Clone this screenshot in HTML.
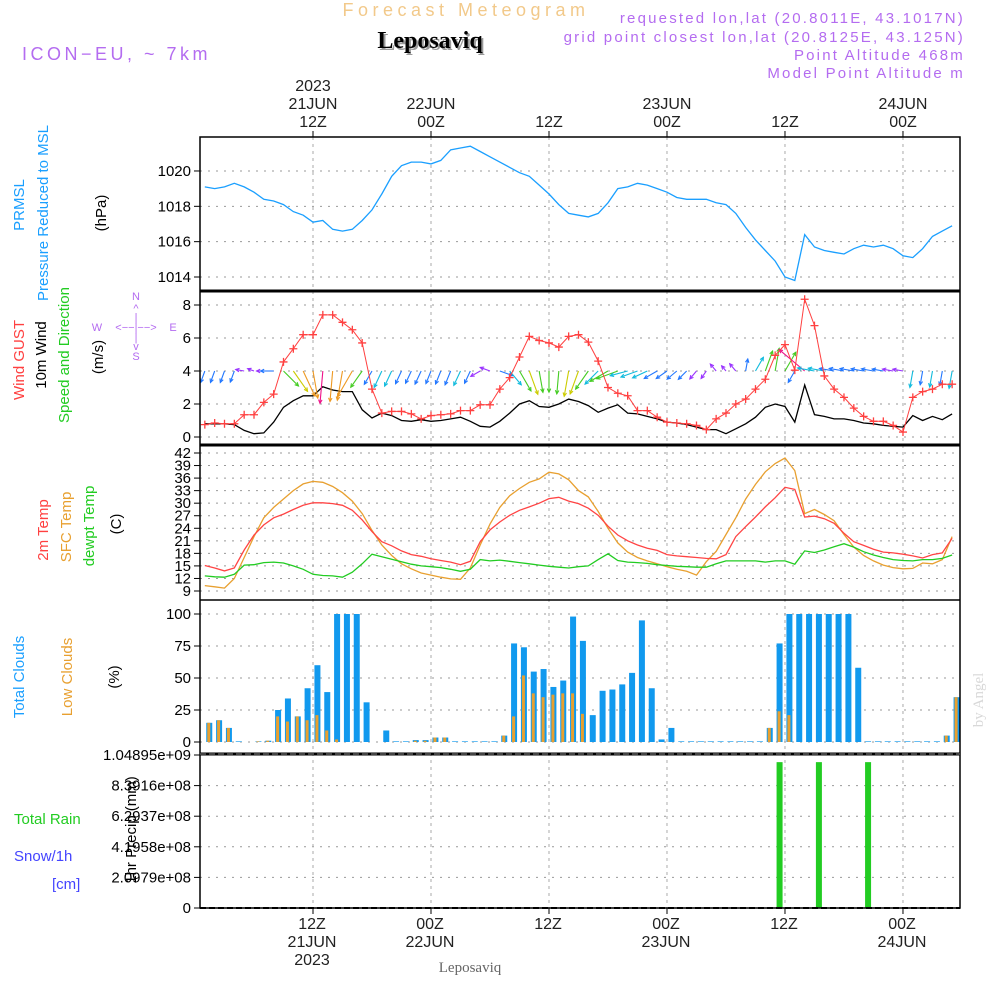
<!DOCTYPE html>
<html><head><meta charset="utf-8"><style>
html,body{margin:0;padding:0;background:#fff;}
svg{display:block;font-family:"Liberation Sans",sans-serif;}
</style></head><body>
<svg id="chart" width="1000" height="1000" viewBox="0 0 1000 1000" xmlns="http://www.w3.org/2000/svg">
<rect x="0" y="0" width="1000" height="1000" fill="#fff"/>
<text x="466" y="16" text-anchor="middle" font-size="18" fill="#f2c98a" letter-spacing="4.5">Forecast Meteogram</text>
<text x="432" y="50" text-anchor="middle" font-size="24" font-weight="bold" font-family="Liberation Serif,serif" fill="#9a9a9a">Leposaviq</text>
<text x="430" y="48" text-anchor="middle" font-size="24" font-weight="bold" font-family="Liberation Serif,serif" fill="#000">Leposaviq</text>
<text x="22" y="60" font-size="18" fill="#b46cf0" letter-spacing="3.5">ICON−EU, ~ 7km</text>
<g font-size="15" fill="#b46cf0" text-anchor="end" letter-spacing="2.2">
<text x="965" y="23">requested lon,lat (20.8011E, 43.1017N)</text>
<text x="965" y="42">grid point closest lon,lat (20.8125E, 43.125N)</text>
<text x="965" y="60">Point Altitude 468m</text>
<text x="965" y="78">Model Point Altitude m</text>
</g>
<g id="grid"></g>
<g id="marks"></g>
<g id="axes"></g>
<g font-size="15" fill="#000">
<text transform="translate(24,205) rotate(-90)" text-anchor="middle" fill="#1a9fff">PRMSL</text>
<text transform="translate(48,213) rotate(-90)" text-anchor="middle" fill="#1a9fff">Pressure Reduced to MSL</text>
<text transform="translate(106,213) rotate(-90)" text-anchor="middle">(hPa)</text>
<text transform="translate(24,360) rotate(-90)" text-anchor="middle" fill="#ff4040">Wind GUST</text>
<text transform="translate(46,355) rotate(-90)" text-anchor="middle">10m Wind</text>
<text transform="translate(69,355) rotate(-90)" text-anchor="middle" fill="#22cc22">Speed and Direction</text>
<text transform="translate(103,357) rotate(-90)" text-anchor="middle">(m/s)</text>
<text transform="translate(48,530) rotate(-90)" text-anchor="middle" fill="#ff4040">2m Temp</text>
<text transform="translate(71,527) rotate(-90)" text-anchor="middle" fill="#e8a030">SFC Temp</text>
<text transform="translate(94,526) rotate(-90)" text-anchor="middle" fill="#22cc22">dewpt Temp</text>
<text transform="translate(121,524) rotate(-90)" text-anchor="middle">(C)</text>
<text transform="translate(24,677) rotate(-90)" text-anchor="middle" fill="#1a9fff">Total Clouds</text>
<text transform="translate(72,677) rotate(-90)" text-anchor="middle" fill="#e8a030">Low Clouds</text>
<text transform="translate(119,677) rotate(-90)" text-anchor="middle">(%)</text>
<text x="14" y="824" fill="#22cc22">Total  Rain</text>
<text x="14" y="861" fill="#4444ff">Snow/1h</text>
<text x="52" y="889" fill="#4444ff">[cm]</text>
<text transform="translate(136,830) rotate(-90)" text-anchor="middle">1hr Precip (mm)</text>
<text transform="translate(983,700) rotate(-90)" text-anchor="middle" font-family="Liberation Serif,serif" fill="#d8d8d8">by Angel</text>
<text x="470" y="972" text-anchor="middle" font-family="Liberation Serif,serif" fill="#666">Leposaviq</text>
</g>
<g font-size="11" fill="#b46cf0" text-anchor="middle">
<text x="136" y="300">N</text><text x="136" y="312">^</text><text x="136" y="321">|</text>
<text x="136" y="331">&lt;−−|−−&gt;</text><text x="97" y="331">W</text><text x="173" y="331">E</text>
<text x="136" y="341">|</text><text x="136" y="350">v</text><text x="136" y="360">S</text>
</g>
</svg>
<script>
const hours=[];for(let i=1;i<=77;i++)hours.push(i);
const pressure=[1019.1,1019.0,1019.1,1019.3,1019.1,1018.8,1018.4,1018.3,1018.1,1017.7,1017.5,1017.1,1017.2,1016.7,1016.6,1016.7,1017.2,1017.8,1018.7,1019.7,1020.3,1020.5,1020.5,1020.4,1020.6,1021.2,1021.3,1021.4,1021.1,1020.8,1020.5,1020.2,1019.9,1019.7,1019.2,1018.7,1018.1,1017.6,1017.5,1017.4,1017.6,1018.2,1019.0,1019.1,1019.3,1019.2,1019.0,1018.8,1018.5,1018.4,1018.4,1018.4,1018.2,1018.1,1017.6,1016.8,1016.1,1015.5,1014.9,1014.0,1013.8,1016.4,1015.7,1015.5,1015.4,1015.3,1015.6,1015.8,1015.7,1015.8,1015.6,1015.2,1015.1,1015.6,1016.3,1016.6,1016.9];
const gust=[0.75,0.85,0.8,0.8,1.35,1.35,2.1,2.6,4.55,5.35,6.2,6.2,7.4,7.4,6.95,6.5,5.7,2.9,1.45,1.55,1.55,1.4,1.1,1.3,1.35,1.4,1.6,1.6,1.95,1.95,2.9,3.6,4.85,6.1,5.85,5.7,5.45,6.1,6.2,5.75,4.6,3.0,2.65,2.5,1.6,1.6,1.2,0.9,0.85,0.8,0.7,0.45,1.1,1.45,2.0,2.3,2.9,3.5,4.95,5.6,4.05,8.35,6.75,3.7,2.9,2.4,1.75,1.25,0.95,0.95,0.7,0.3,2.4,2.75,2.9,3.2,3.2];
const wind=[0.8,0.8,0.8,0.75,0.4,0.2,0.25,0.9,1.8,2.2,2.5,2.5,3.05,2.85,2.75,2.75,1.65,1.15,1.45,1.3,1.0,0.95,1.05,0.95,1.0,1.1,1.2,0.95,0.65,0.6,0.95,1.45,2.0,2.2,1.85,1.8,2.0,2.3,2.15,1.9,1.5,1.75,1.95,1.45,1.4,1.25,1.1,0.9,0.85,0.75,0.6,0.45,0.45,0.2,0.5,0.8,1.2,1.8,2.0,1.85,0.9,3.15,1.35,1.25,1.1,1.1,1.0,0.85,0.8,0.7,0.65,0.6,1.3,1.0,1.25,1.05,1.4];
const windDir=[110,110,110,110,190,200,180,180,45,55,65,80,95,95,100,120,125,120,115,115,115,115,115,112,112,112,115,115,150,200,20,50,60,70,80,90,95,100,110,125,135,150,160,165,160,155,150,145,140,135,130,125,230,230,230,280,300,290,280,300,120,220,190,190,190,190,190,190,190,190,190,190,100,100,100,100,100];
const temp2m=[15.1,14.5,13.8,14.5,18.8,22.4,24.8,26.5,27.4,28.5,29.5,30.1,30.1,29.9,29.5,28.3,26.0,23.2,20.8,19.8,18.6,17.7,17.3,16.7,16.3,15.9,15.3,16.1,20.8,23.6,25.5,27.1,28.3,29.1,30.0,31.1,31.4,30.5,29.9,28.8,27.1,24.5,22.4,21.0,20.0,19.2,18.7,17.7,17.4,17.2,17.0,16.8,16.7,17.7,22.0,24.4,26.7,29.1,31.3,33.8,33.3,26.7,26.9,26.3,25.2,22.8,20.8,19.9,19.0,18.3,18.1,17.8,17.4,16.9,17.7,18.1,21.6];
const sfcTemp=[10.3,10.0,9.7,12.0,17.0,22.0,26.5,29.0,31.0,33.0,34.6,35.2,35.0,34.0,32.5,30.5,27.5,23.5,20.0,17.5,15.5,14.3,13.3,12.8,12.3,11.9,11.8,14.5,20.0,25.0,29.0,31.8,33.5,35.0,35.8,37.4,37.0,35.6,33.0,31.5,28.0,24.0,20.5,18.3,17.0,16.2,15.5,14.8,14.2,13.7,12.8,16.0,18.5,22.5,26.5,31.0,34.5,37.5,39.5,40.8,37.8,27.5,28.5,27.3,25.8,22.5,19.5,17.5,16.2,15.2,14.6,14.3,14.4,15.7,15.5,16.5,22.0];
const dewpt=[12.6,12.4,12.3,13.0,15.2,15.3,15.8,15.9,15.7,15.0,14.2,13.0,12.7,12.6,12.3,13.5,15.5,17.8,17.2,16.6,16.0,15.4,15.0,14.8,14.6,14.2,13.7,14.2,16.5,16.2,16.4,16.1,15.8,15.5,15.2,14.9,14.7,14.5,14.8,15.0,16.5,17.9,16.3,15.9,15.8,15.6,15.3,15.1,14.9,14.8,14.7,14.7,15.5,16.2,16.2,16.2,16.2,15.9,16.2,16.2,15.4,18.6,18.2,18.8,19.6,20.3,19.5,18.4,17.6,17.0,16.5,16.3,16.2,16.5,16.5,16.8,17.6];
const totalClouds=[15,17,11,0.5,0,0.5,1,25,34,20,42,60,39,100,100,100,31,0,9,0.5,0.5,1.5,1.5,3.5,3.5,0.5,0.5,0.5,0.5,0.5,5,77,74,55,57,43,48,98,79,21,40,41,45,54,95,42,2,11,0.5,0.5,0.5,0.5,0.5,0.5,0.5,0.5,0.5,11,77,100,100,100,100,100,100,100,58,0.5,0.5,0.5,0.5,0.5,0.5,0.5,0.5,5,35,73];
const lowClouds=[15,17,11,0,0,0.5,1,20,16,20,17,21,9,2,0,0,0,0,0,0,0,1,1,3.5,3.5,0,0,0,0,0,5,20,52,38,35,37,38,38,22,0,0,0,0,0,0,0,0,0,0,0,0,0,0,0,0,0,0,11,24,21,0,0,0,0,0,0,0,0,0,0,0,0,0,0,0,5,35,68];
const precip=[];for(let i=0;i<78;i++)precip.push(0);
precip[58]=1.0e9;precip[62]=1.0e9;precip[67]=1.0e9;
const pTicks=[1014,1016,1018,1020];
const wTicks=[0,2,4,6,8];
const tTicks=[9,12,15,18,21,24,27,30,33,36,39,42];
const cTicks=[0,25,50,75,100];
const rTicks=[0,2.0979e8,4.1958e8,6.2937e8,8.3916e8,1.04895e9];
const rTickLabels=["0","2.0979e+08","4.1958e+08","6.2937e+08","8.3916e+08","1.04895e+09"];
const timeTicks=[12,24,36,48,60,72];
const topLabels=[["2023","21JUN","12Z"],["","22JUN","00Z"],["","","12Z"],["","23JUN","00Z"],["","","12Z"],["","24JUN","00Z"]];
const botLabels=[["12Z","21JUN","2023"],["00Z","22JUN",""],["12Z","",""],["00Z","23JUN",""],["12Z","",""],["00Z","24JUN",""]];

const NS="http://www.w3.org/2000/svg";
const L=200,R=960;
const X=h=>313+(h-12)*9.833;
const yP=v=>277-(v-1014)*17.67;
const yW=v=>437-v*16.5;
const yT=v=>591-(v-9)*(138/33);
const yC=v=>742-v*1.28;
const yR=v=>908-v/1.04895e9*153;
function mk(tag,attrs,parent){const e=document.createElementNS(NS,tag);for(const k in attrs)e.setAttribute(k,attrs[k]);parent.appendChild(e);return e;}
const grid=document.getElementById('grid'),marks=document.getElementById('marks'),axes=document.getElementById('axes');

function hgrid(ticks,yf,labels,name){
  ticks.forEach((t,i)=>{
    const yy=yf(t);
    const g=mk('line',{x1:L,x2:R,y1:yy,y2:yy,stroke:'#999','stroke-width':1,'stroke-dasharray':'2,6'},grid);
    
    
    mk('line',{x1:L-6,x2:L,y1:yy,y2:yy,stroke:'#000'},axes);
    const tx=mk('text',{x:L-9,y:yy+5,'text-anchor':'end','font-size':15,fill:'#000'},axes);
    tx.textContent=labels?labels[i]:String(t);
    
    
  });
}
hgrid(pTicks,yP,null,'pressure');
hgrid(wTicks,yW,null,'wind');
hgrid(tTicks,yT,null,'temp');
hgrid(cTicks,yC,null,'cloud');
hgrid(rTicks,yR,rTickLabels,'precip');
timeTicks.forEach((h,i)=>{
  const xx=X(h);
  const v=mk('line',{x1:xx,x2:xx,y1:137,y2:908,stroke:'#aaa','stroke-width':1,'stroke-dasharray':'3,4'},grid);
  
  
  topLabels[i].forEach((s,j)=>{if(!s)return;const t=mk('text',{x:xx,y:91+j*18,'text-anchor':'middle','font-size':16,fill:'#222'},axes);t.textContent=s;
    
    });
  botLabels[i].forEach((s,j)=>{if(!s)return;const t=mk('text',{x:xx-1,y:929+j*18,'text-anchor':'middle','font-size':16,fill:'#222'},axes);t.textContent=s;
    
    });
  mk('line',{x1:xx,x2:xx,y1:137,y2:131,stroke:'#000'},axes);
  mk('line',{x1:xx,x2:xx,y1:908,y2:914,stroke:'#000'},axes);
});

function line(vals,yf,color,name,w){
  const pts=vals.map((v,i)=>X(hours[i]).toFixed(1)+','+yf(v).toFixed(1)).join(' ');
  const p=mk('polyline',{points:pts,fill:'none',stroke:color,'stroke-width':w||1.3},marks);
  
  
  return p;
}
line(pressure,yP,'#1a9fff','pressure-line');
totalClouds.forEach((v,i)=>{
  const cx=X(i+1.45);if(cx>R+2)return;
  const r=mk('rect',{x:cx-3,y:yC(v),width:Math.min(6,R-(cx-3)),height:742-yC(v),fill:'#1199ee'},marks);
  
  
  const lv=lowClouds[i];
  if(lv>0){const o=mk('rect',{x:cx-2,y:yC(lv),width:Math.min(3,R-(cx-2)),height:742-yC(lv),fill:'#e8a030'},marks);
    
    }
});
precip.forEach((v,i)=>{
  if(v<=0)return;
  const cx=X(i+1.45);
  const r=mk('rect',{x:cx-3,y:yR(v),width:6,height:908-yR(v),fill:'#22cc22'},marks);
  
  
});
line(sfcTemp,yT,'#e8a030','sfc-temp-line');
line(temp2m,yT,'#ff4444','temp2m-line');
line(dewpt,yT,'#22cc22','dewpt-line');
line(wind,yW,'#000','wind-speed-line');
function wcol(s){if(s<0.7)return'#9933ff';if(s<1.2)return'#2277ff';if(s<1.6)return'#11bbdd';if(s<2.1)return'#44cc22';if(s<2.5)return'#cccc00';if(s<2.9)return'#ee9922';return'#ee1188';}
wind.forEach((s,i)=>{
  const x0=X(hours[i]),y0=yW(4);
  const a=windDir[i]*Math.PI/180,len=5+s*9;
  const x1=x0+Math.cos(a)*len,y1=y0+Math.sin(a)*len;
  const c=wcol(s);
  const g=mk('g',{stroke:c,'stroke-width':1.1,fill:'none'},marks);
  
  
  mk('line',{x1:x0,y1:y0,x2:x1,y2:y1},g);
  const h1=a+Math.PI-0.45,h2=a+Math.PI+0.45;
  mk('polyline',{points:`${x1+Math.cos(h1)*4},${y1+Math.sin(h1)*4} ${x1},${y1} ${x1+Math.cos(h2)*4},${y1+Math.sin(h2)*4}`},g);
});
line(gust,yW,'#ff4040','gust-line',1);
gust.forEach((v,i)=>{
  const xx=X(hours[i]),yy=yW(v);
  const p=mk('path',{d:`M${xx-4},${yy}H${xx+4}M${xx},${yy-4}V${yy+4}`,stroke:'#ff4040','stroke-width':1.3},marks);
  
  
});
mk('rect',{x:L,y:137,width:R-L,height:771,fill:'none',stroke:'#000','stroke-width':1.5},axes);
[[291,3],[445,3],[600,1.5],[754,3]].forEach(([yy,w])=>{const s=mk('line',{x1:L,x2:R,y1:yy,y2:yy,stroke:'#000','stroke-width':w},axes);
  
  });
mk('line',{x1:L,x2:R,y1:908,y2:908,stroke:'#000','stroke-width':2,'stroke-dasharray':'6,3'},axes);
mk('line',{x1:L,x2:R,y1:754,y2:754,stroke:'#888','stroke-width':1,'stroke-dasharray':'6,3'},axes);
</script>
</body></html>
